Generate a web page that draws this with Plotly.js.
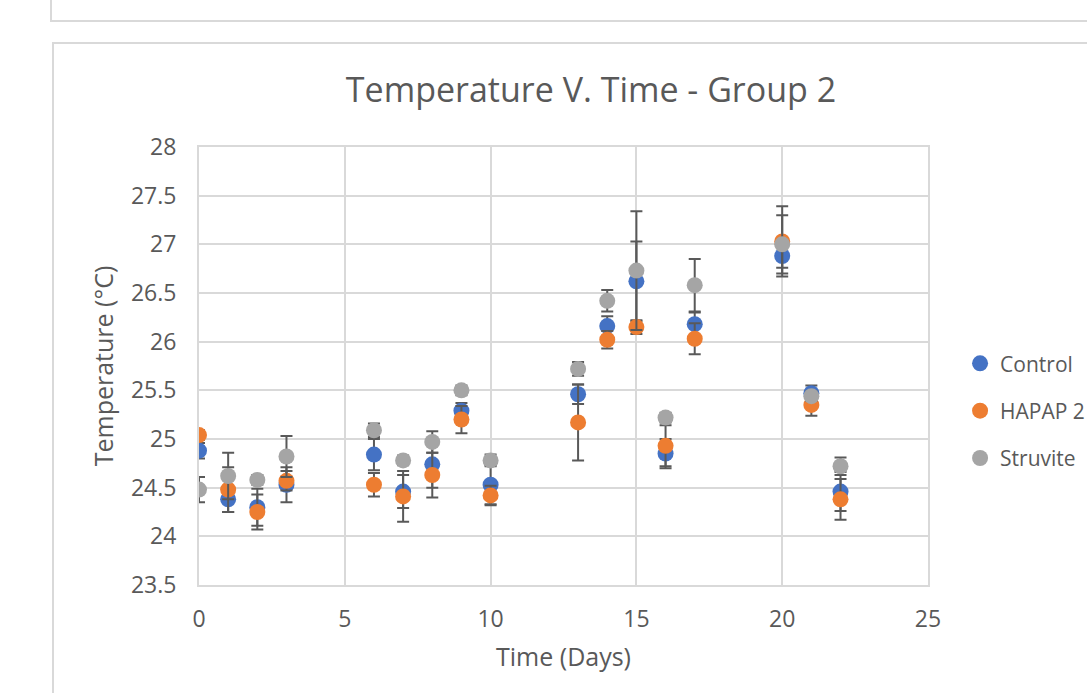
<!DOCTYPE html>
<html>
<head>
<meta charset="utf-8">
<script src="https://cdn.plot.ly/plotly-3.0.1.min.js"></script>
<style>
  html, body { margin: 0; padding: 0; background: #ffffff; overflow: hidden; }
  #box1 { position: absolute; left: 50px; top: -10px; width: 1100px; height: 32px; border: 2px solid #d9d9d9; box-sizing: border-box; }
  #box2 { position: absolute; left: 52px; top: 42px; width: 1100px; height: 700px; border: 2px solid #d9d9d9; box-sizing: border-box; }
  #chart { position: absolute; left: 0; top: 0; width: 1087px; height: 693px; }
</style>
</head>
<body>
<div id="box1"></div>
<div id="box2"></div>
<div id="chart"></div>
<script>
// Days
const days = [0, 1, 2, 3, 6, 7, 8, 9, 10, 13, 14, 15, 16, 17, 20, 21, 22];

// Mean temperatures (°C)
const control  = [24.88, 24.38, 24.30, 24.53, 24.84, 24.46, 24.74, 25.29, 24.53, 25.46, 26.16, 26.62, 24.85, 26.18, 26.88, 25.47, 24.46];
const hapap    = [25.04, 24.48, 24.25, 24.57, 24.53, 24.41, 24.63, 25.20, 24.42, 25.17, 26.02, 26.15, 24.93, 26.03, 27.03, 25.35, 24.38];
const struvite = [24.48, 24.62, 24.58, 24.82, 25.09, 24.78, 24.97, 25.50, 24.78, 25.72, 26.42, 26.73, 25.22, 26.58, 27.00, 25.44, 24.72];

// Error bar sizes (°C)
const controlErr  = [0.08, 0.13, 0.19, 0.18, 0.16, 0.17, 0.24, 0.08, 0.20, 0.10, 0.10, 0.41, 0.15, 0.12, 0.12, 0.08, 0.20];
const hapapErr    = [0.05, 0.23, 0.18, 0.10, 0.12, 0.26, 0.23, 0.14, 0.10, 0.39, 0.09, 0.07, 0.21, 0.16, 0.36, 0.11, 0.21];
const struviteErr = [0.13, 0.24, 0.05, 0.21, 0.07, 0.05, 0.11, 0.05, 0.06, 0.07, 0.11, 0.61, 0.05, 0.27, 0.30, 0.05, 0.09];

// Labels (legend text as visible in the reference)
const seriesNames = ['Control', 'HAPAP 2', 'Struvite'];
const seriesColors = ['#4472C4', '#ED7D31', '#A5A5A5'];
const chartTitle = 'Temperature V. Time - Group 2';
const xTitle = 'Time (Days)';
const yTitle = 'Temperature (°C)';

const textColor = '#595959';
const font = 'Open Sans, Noto Sans, sans-serif';

function mk(y, err, i) {
  return {
    x: days, y: y, type: 'scatter', mode: 'markers', name: seriesNames[i],
    legendgroup: 'g' + i,
    marker: { color: seriesColors[i], size: 16 },
    error_y: { type: 'data', array: err, visible: true, color: '#595959', thickness: 2, width: 6 }
  };
}

const data = [mk(control, controlErr, 0), mk(hapap, hapapErr, 1), mk(struvite, struviteErr, 2)];

const layout = {
  width: 1087, height: 693,
  paper_bgcolor: 'rgba(0,0,0,0)', plot_bgcolor: 'rgba(0,0,0,0)',
  margin: { l: 199, r: 159, t: 147, b: 108, pad: 0, autoexpand: false },
  font: { family: font, color: textColor },
  title: { text: chartTitle, font: { size: 34, color: textColor, family: font },
           xref: 'container', yref: 'container', x: 0.5437, xanchor: 'center', y: 0.870, yanchor: 'middle' },
  xaxis: {
    range: [0, 25], dtick: 5, tick0: 0,
    showgrid: true, gridcolor: '#d9d9d9', gridwidth: 2,
    zeroline: false, showline: true, linecolor: '#d9d9d9', linewidth: 2, mirror: true,
    ticks: '', tickfont: { size: 23, color: textColor }, ticklabelstandoff: 12,
    title: { text: xTitle, font: { size: 25, color: textColor }, standoff: 16 }
  },
  yaxis: {
    range: [23.5, 28], dtick: 0.5, tick0: 23.5,
    showgrid: true, gridcolor: '#d9d9d9', gridwidth: 2,
    zeroline: false, showline: true, linecolor: '#d9d9d9', linewidth: 2, mirror: true,
    ticks: '', tickfont: { size: 23, color: textColor }, ticklabelstandoff: 16,
    title: { text: yTitle, font: { size: 25, color: textColor }, standoff: 10 }
  },
  legend: {
    x: 1.044, xanchor: 'left', y: 0.552, yanchor: 'top',
    font: { size: 21, color: textColor },
    tracegroupgap: 17, itemwidth: 30,
    bgcolor: 'rgba(0,0,0,0)'
  },
  showlegend: true
};

Plotly.newPlot('chart', data, layout, { staticPlot: true, displayModeBar: false });
</script>
</body>
</html>
